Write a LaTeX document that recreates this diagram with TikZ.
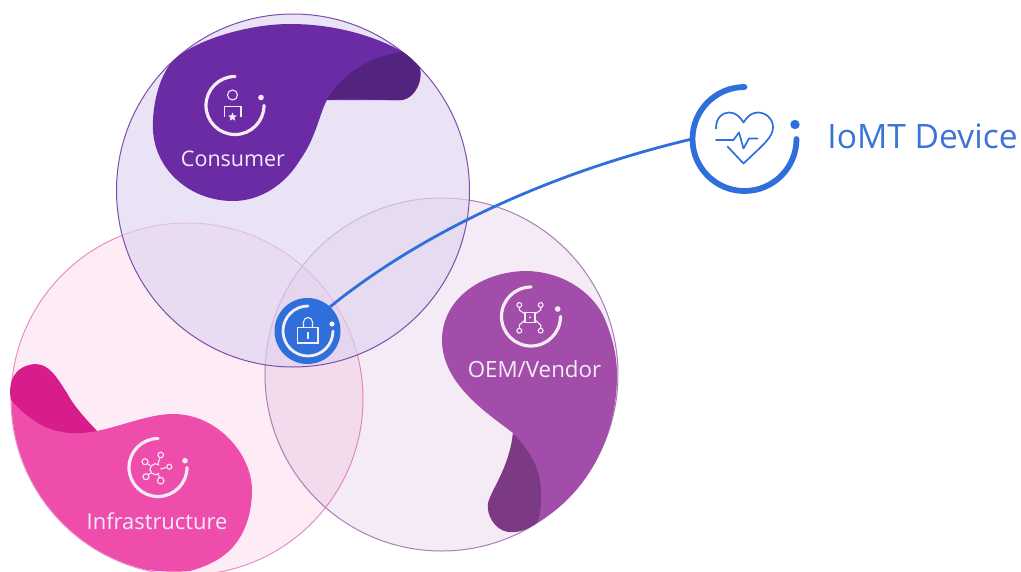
\documentclass[tikz,border=0pt]{standalone}
\usepackage{fontspec}
\setmainfont{Open Sans}
\usetikzlibrary{shapes.geometric}
\definecolor{consC}{HTML}{6B2BA5}
\definecolor{consD}{HTML}{52237F}
\definecolor{consL}{HTML}{7A4FA8}
\definecolor{consF}{HTML}{E0D4F0}
\definecolor{infC}{HTML}{EE4DAB}
\definecolor{infD}{HTML}{D91C8C}
\definecolor{infL}{HTML}{E78FC4}
\definecolor{oemC}{HTML}{A34DAB}
\definecolor{oemD}{HTML}{7D3A84}
\definecolor{oemL}{HTML}{A97DB6}
\definecolor{blueC}{HTML}{2F6FDB}
\definecolor{blueT}{HTML}{3C73D6}
\definecolor{iconW}{HTML}{F6ECF8}
\tikzset{
  x=1pt,y=-1pt,
  ringthin/.style={draw=iconW,line width=3.2pt,line cap=round},
  fine/.style={draw=iconW,line width=1.1pt},
  lbl/.style={text=iconW,inner sep=0pt},
  anchorc/.style={circle,minimum size=#1,inner sep=0pt,outer sep=0pt}
}
\begin{document}
\begin{tikzpicture}
\useasboundingbox (0,0) rectangle (1021,571);
\begin{scope}
\clip (0,0) rectangle (1021,571);
% venn discs
\fill[infC,fill opacity=.105] (187,399) circle[radius=176];
\draw[infL,line width=1pt] (187,399) circle[radius=176];
\fill[oemC,fill opacity=.11] (441.5,374.5) circle[radius=176.5];
\draw[oemL,line width=1pt] (441.5,374.5) circle[radius=176.5];
\fill[consF,fill opacity=.68] (293,190.5) circle[radius=176.5];
\draw[consL,line width=1pt] (293,190.5) circle[radius=176.5];

% consumer blob
\fill[consC] (153,130) .. controls (152,108) and (158,78) .. (172,62)
  .. controls (190,42) and (245,24) .. (290,24)
  .. controls (335,24) and (375,36) .. (403,52)
  -- (420,68) -- (400,100) -- (327,100)
  .. controls (320,112) and (316,138) .. (300,160)
  .. controls (285,185) and (260,201) .. (233,201)
  .. controls (190,201) and (155,170) .. (153,130) -- cycle;
\fill[consD] (327,100) .. controls (340,75) and (372,55) .. (403,52)
  .. controls (410,57) and (416,62) .. (420,68)
  .. controls (423,80) and (416,97) .. (403,100)
  .. controls (380,101) and (350,96) .. (327,100) -- cycle;

% infrastructure blob
\fill[infC] (11.5,399) arc[start angle=180,end angle=103,radius=175.5]
  .. controls (165,572) and (178,572) .. (190,571)
  .. controls (212,565) and (225,556) .. (233,547)
  .. controls (246,532) and (252,512) .. (252,490)
  .. controls (252,455) and (218,414) .. (173,414)
  .. controls (150,414) and (125,425) .. (97,431)
  -- (60,432) -- cycle;
\fill[infD] (11,400) .. controls (8,385) and (12,366) .. (35,364)
  .. controls (50,364) and (57,378) .. (67,393)
  .. controls (75,408) and (87,420) .. (97,431)
  .. controls (75,435) and (60,433) .. (48,428)
  .. controls (33,422) and (20,410) .. (11,400) -- cycle;

% OEM blob
\fill[oemC] (442,340) .. controls (442,300) and (480,272) .. (525,271)
  .. controls (560,271) and (590,290) .. (603,315)
  .. controls (612,335) and (617,355) .. (617,375)
  .. controls (617,440) and (585,495) .. (538,522)
  -- (505,500) -- (513,433)
  .. controls (490,415) and (442,385) .. (442,340) -- cycle;
\fill[oemD] (513,434) .. controls (530,450) and (542,470) .. (541,497)
  .. controls (541,508) and (540,515) .. (538,522)
  .. controls (528,530) and (518,533) .. (508,532)
  .. controls (495,530) and (486,515) .. (488,503)
  .. controls (492,488) and (508,470) .. (513,434) -- cycle;

% connector end nodes
\node[anchorc=66pt,fill=blueC] (lock) at (307.5,331) {};
\node[anchorc=104pt] (iomt) at (744,139) {};
\draw[blueC,line width=2.8pt] (lock.47) .. controls (400,250) and (520,180) .. (iomt.180);

% IoMT icon
\draw[blueC,line width=5.8pt,line cap=round] (744.5,87) arc[start angle=-90,end angle=-360,radius=52];
\fill[blueC] (795,124.5) circle[radius=4.7];
\begin{scope}[blueC,line width=1.7pt,line cap=round,line join=round]
\draw (716,128.5) .. controls (716,118) and (722,112.5) .. (729,112.5)
  .. controls (736,112.5) and (740,117) .. (743.5,122.5)
  .. controls (747,117) and (751,112.5) .. (758,112.5)
  .. controls (766,112.5) and (773,119) .. (773,127)
  .. controls (773,137) and (765,143) .. (743.5,163.5) -- (727.5,146.5);
\draw (716,140) -- (733.5,140) -- (739,132.5) -- (743.5,148.5) -- (749,138.5) -- (757.5,138.5);
\end{scope}
\node[text=blueT,font=\fontsize{33.6}{38}\selectfont,inner sep=0pt] (iomtlabel) at (922.5,136) {IoMT Device};

% lock icon
\draw[ringthin,line width=2.8pt] (308,306) arc[start angle=-90,end angle=-360,radius=25];
\fill[iconW] (332,324) circle[radius=2.6];
\draw[fine] (297.5,327.5) rectangle (318,343);
\draw[fine] (303.5,327.5) -- (303.5,322) arc[start angle=180,end angle=360,radius=4.5] -- (312.5,327.5);
\draw[fine] (308,332) -- (308,339);

% consumer icon
\draw[ringthin] (235,76.5) arc[start angle=-90,end angle=-360,radius=29];
\fill[iconW] (261,97.5) circle[radius=2.8];
\draw[fine] (232.5,95) circle[radius=5];
\draw[fine] (224.5,117) -- (224.5,106.5) -- (241,106.5) -- (241,117);
\node[star,star points=5,star point ratio=2.2,fill=iconW,inner sep=0pt,minimum size=9pt] (consstar) at (232.5,117) {};
\node[lbl,font=\fontsize{21.5}{24}\selectfont] (conslabel) at (233,158.5) {Consumer};

% OEM icon
\draw[ringthin] (531,287) arc[start angle=-90,end angle=-360,radius=29.5];
\fill[iconW] (557.7,309) circle[radius=2.8];
\draw[fine] (525,312.3) rectangle (535,322.3);
\fill[iconW] (530,317.3) circle[radius=1];
\foreach \px/\py/\qx/\qy/\rx/\ry in {519.3/305/519.3/310/525/314, 540.7/305/540.7/310/535/314, 519.3/330.7/519.3/325/525/320, 540.7/330.7/540.7/325/535/320}{
  \draw[fine] (\px,\py) circle[radius=2.4];
  \draw[fine] (\px,{\py+(\qy-\py)*.5}) -- (\qx,\qy) -- (\rx,\ry);
}
\node[lbl,font=\fontsize{22.3}{24}\selectfont] (oemlabel) at (534.5,369.5) {OEM/Vendor};

% infrastructure icon
\draw[ringthin] (158,438.5) arc[start angle=-90,end angle=-360,radius=29];
\fill[iconW] (185,460.7) circle[radius=2.8];
\draw[fine] (159,465) arc[start angle=-50,end angle=-310,radius=5.5];
\foreach \px/\py/\pr/\ax/\ay in {160.7/455/2.8/158/464, 145/461.7/3/150/465.5, 146/476.7/3/150.5/473, 160.7/480.7/3.3/158/474, 169.3/466.7/2.5/160.5/469}{
  \draw[fine] (\px,\py) circle[radius=\pr];
  \draw[fine] (\ax,\ay) -- ({\px+(\ax-\px)*.4},{\py+(\ay-\py)*.4});
}
\node[lbl,font=\fontsize{21.9}{24}\selectfont] (inflabel) at (157,521) {Infrastructure};
\end{scope}
\end{tikzpicture}
\end{document}
